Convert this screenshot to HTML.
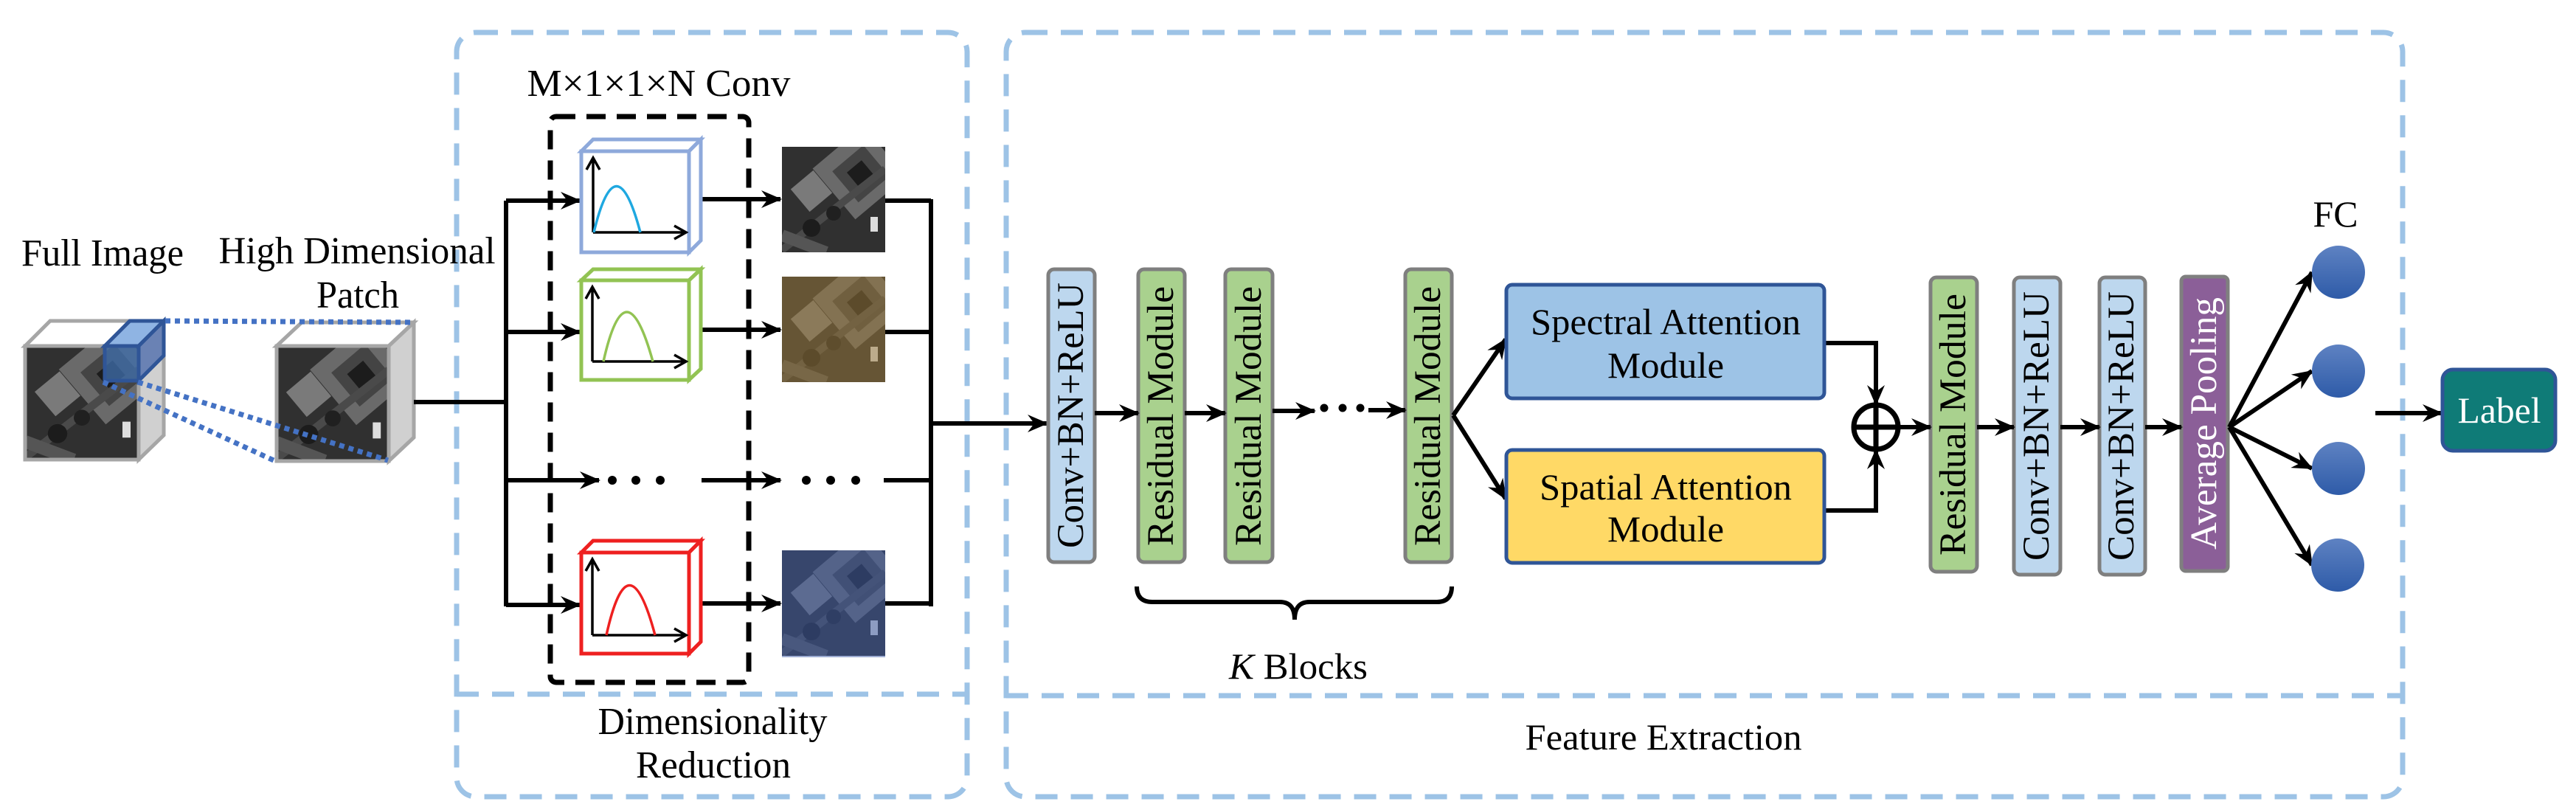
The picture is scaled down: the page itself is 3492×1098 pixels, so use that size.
<!DOCTYPE html>
<html><head><meta charset="utf-8"><style>
html,body{margin:0;padding:0;background:#fff}
svg{display:block}
svg text{font-family:"Liberation Serif","Times New Roman",Times,serif !important;fill:#000}
</style></head><body>
<svg width="3492" height="1098" viewBox="0 0 3492 1098" xmlns="http://www.w3.org/2000/svg" font-family="Liberation Serif, Times New Roman, serif">
<defs>
<marker id="ah" markerWidth="30" markerHeight="24" refX="26" refY="12" orient="auto" markerUnits="userSpaceOnUse">
<path d="M0,0 L28,12 L0,24 L9,12 z" fill="#000"/>
</marker>
<linearGradient id="cg" x1="0" y1="0" x2="0" y2="1"><stop offset="0" stop-color="#5E82C2"/><stop offset="1" stop-color="#2E5BA8"/></linearGradient>
<clipPath id="sc"><rect x="0" y="0" width="140" height="143"/></clipPath>
<g id="sat">
<rect x="0" y="0" width="140" height="143" fill="#303030"/>
<g clip-path="url(#sc)">
<rect x="60" y="-10" width="90" height="90" fill="#6a6a6a" transform="rotate(-40 105 35)"/>
<rect x="78" y="10" width="55" height="55" fill="#444" transform="rotate(-40 105 35)"/>
<rect x="92" y="24" width="26" height="26" fill="#1c1c1c" transform="rotate(-40 105 35)"/>
<rect x="20" y="40" width="40" height="40" fill="#7a7a7a" transform="rotate(-40 40 60)"/>
<path d="M0,140 L140,30" stroke="#4a4a4a" stroke-width="10"/>
<path d="M0,120 L60,143" stroke="#555" stroke-width="16"/>
<circle cx="40" cy="110" r="12" fill="#1c1c1c"/><circle cx="70" cy="90" r="10" fill="#202020"/>
<rect x="120" y="95" width="10" height="20" fill="#ddd"/>
</g>
</g>
</defs>

<g fill="none" stroke="#9DC3E6" stroke-width="7" stroke-dasharray="30 18">
<rect x="619" y="44" width="692" height="1036" rx="26"/>
<line x1="619" y1="941" x2="1311" y2="941"/>
<rect x="1364" y="44" width="1893" height="1036" rx="26"/>
<line x1="1364" y1="943" x2="3257" y2="943"/>
</g>

<path d="M34,469 L68,435 L222,435 L188,469 Z" fill="#fff" stroke="#a6a6a6" stroke-width="5"/>
<path d="M188,469 L222,435 L222,590 L188,623 Z" fill="#d0d0d0" stroke="#a6a6a6" stroke-width="5"/>
<g transform="translate(34,469) scale(1.1,1.08)"><use href="#sat"/></g>
<rect x="34" y="469" width="154" height="154" fill="none" stroke="#a6a6a6" stroke-width="5"/>
<path d="M142,469 L176,435 L222,435 L188,469 Z" fill="#8FB4E3" stroke="#2F5597" stroke-width="5"/>
<path d="M188,469 L222,435 L222,482 L188,516 Z" fill="#6A82B4" stroke="#2F5597" stroke-width="5"/>
<rect x="142" y="469" width="46" height="47" fill="#3F6FAE" fill-opacity="0.75" stroke="#2F5597" stroke-width="5"/>
<path d="M375,469 L409,437 L561,437 L527,469 Z" fill="#fff" stroke="#a6a6a6" stroke-width="5"/>
<path d="M527,469 L561,437 L561,593 L527,625 Z" fill="#d0d0d0" stroke="#a6a6a6" stroke-width="5"/>
<g transform="translate(375,469) scale(1.086,1.09)"><use href="#sat"/></g>
<rect x="375" y="469" width="152" height="156" fill="none" stroke="#a6a6a6" stroke-width="5"/>
<g stroke="#4472C4" stroke-width="7" stroke-dasharray="7 6" fill="none">
<line x1="224" y1="435" x2="561" y2="437"/>
<line x1="140" y1="518" x2="371" y2="624"/>
<line x1="187" y1="518" x2="526" y2="624"/>
</g>

<text x="139" y="360" font-size="52" text-anchor="middle" textLength="220" lengthAdjust="spacingAndGlyphs">Full Image</text>
<text x="484" y="357" font-size="52" text-anchor="middle" textLength="375" lengthAdjust="spacingAndGlyphs">High Dimensional</text>
<text x="485" y="417" font-size="52" text-anchor="middle" textLength="112" lengthAdjust="spacingAndGlyphs">Patch</text>
<text x="893" y="130" font-size="52" text-anchor="middle" textLength="357" lengthAdjust="spacingAndGlyphs">M×1×1×N Conv</text>
<text x="966" y="995" font-size="52" text-anchor="middle" textLength="311" lengthAdjust="spacingAndGlyphs">Dimensionality</text>
<text x="967" y="1054" font-size="52" text-anchor="middle" textLength="210" lengthAdjust="spacingAndGlyphs">Reduction</text>

<g stroke="#000" stroke-width="6" fill="none">
<line x1="561" y1="545" x2="686" y2="545"/>
<line x1="686" y1="272" x2="686" y2="822"/>
<line x1="686" y1="272" x2="786" y2="272" marker-end="url(#ah)"/>
<line x1="686" y1="450" x2="786" y2="450" marker-end="url(#ah)"/>
<line x1="686" y1="651" x2="812" y2="651" marker-end="url(#ah)"/>
<line x1="686" y1="820" x2="786" y2="820" marker-end="url(#ah)"/>
<line x1="950" y1="270" x2="1058" y2="270" marker-end="url(#ah)"/>
<line x1="950" y1="447" x2="1058" y2="447" marker-end="url(#ah)"/>
<line x1="951" y1="651" x2="1058" y2="651" marker-end="url(#ah)"/>
<line x1="950" y1="818" x2="1058" y2="818" marker-end="url(#ah)"/>
<line x1="1198" y1="272" x2="1262" y2="272"/>
<line x1="1198" y1="450" x2="1262" y2="450"/>
<line x1="1198" y1="651" x2="1262" y2="651"/>
<line x1="1198" y1="818" x2="1262" y2="818"/>
<line x1="1262" y1="270" x2="1262" y2="822"/>
<line x1="1262" y1="574" x2="1419" y2="574" marker-end="url(#ah)"/>
</g>
<g fill="#000">
<circle cx="830" cy="651" r="6"/><circle cx="862" cy="651" r="6"/><circle cx="895" cy="651" r="6"/>
<circle cx="1093" cy="651" r="6"/><circle cx="1126" cy="651" r="6"/><circle cx="1160" cy="651" r="6"/>
</g>

<rect x="746" y="158" width="269" height="767" rx="8" fill="none" stroke="#000" stroke-width="7" stroke-dasharray="26 15"/>

<g stroke-width="5" fill="#fff">
<g stroke="#8EA9DB">
<path d="M788,205 L804,189 L950,189 L934,205 Z"/><path d="M934,205 L950,189 L950,326 L934,342 Z"/>
<rect x="788" y="205" width="146" height="137"/>
</g>
<g stroke="#92C353">
<path d="M788,380 L804,365 L950,365 L934,380 Z"/><path d="M934,380 L950,365 L950,500 L934,515 Z"/>
<rect x="788" y="380" width="146" height="135"/>
</g>
<g stroke="#EE2020">
<path d="M788,749 L804,733 L950,733 L934,749 Z"/><path d="M934,749 L950,733 L950,870 L934,886 Z"/>
<rect x="788" y="749" width="146" height="137"/>
</g>
</g>
<g stroke="#000" stroke-width="3.5" fill="none">
<path d="M804,315 L804,216 M795,230 L804,214 L813,230"/><path d="M804,315 L928,315 M914,306 L930,315 L914,324"/>
<path d="M803,490 L803,391 M794,405 L803,389 L812,405"/><path d="M803,490 L928,490 M914,481 L930,490 L914,499"/>
<path d="M803,861 L803,760 M794,774 L803,758 L812,774"/><path d="M803,861 L928,861 M914,852 L930,861 L914,870"/>
</g>
<path d="M805,315 Q835,190 868,315" stroke="#1FA8E0" stroke-width="3.5" fill="none"/>
<path d="M818,490 Q848,356 885,490" stroke="#92C353" stroke-width="3.5" fill="none"/>
<path d="M822,861 Q852,726 888,861" stroke="#EE2020" stroke-width="3.5" fill="none"/>

<g transform="translate(1060,199)"><use href="#sat"/></g>
<g transform="translate(1060,375)"><use href="#sat"/><rect width="140" height="143" fill="#9B7A3A" fill-opacity="0.5"/></g>
<g transform="translate(1060,746)"><use href="#sat"/><rect width="140" height="145" fill="#3E5BA8" fill-opacity="0.5"/></g>

<g stroke="#7F7F7F" stroke-width="5">
<rect x="1421" y="365" width="63" height="397" rx="8" fill="#BDD7EE"/>
<rect x="1543" y="365" width="63" height="397" rx="8" fill="#A9D18E"/>
<rect x="1661" y="365" width="64" height="397" rx="8" fill="#A9D18E"/>
<rect x="1905" y="365" width="63" height="397" rx="8" fill="#A9D18E"/>
<rect x="2617" y="376" width="63" height="399" rx="8" fill="#A9D18E"/>
<rect x="2730" y="376" width="63" height="403" rx="8" fill="#BDD7EE"/>
<rect x="2846" y="376" width="62" height="403" rx="8" fill="#BDD7EE"/>
<rect x="2957" y="375" width="63" height="399" rx="6" fill="#8B5F98"/>
</g>
<g font-size="51">
<text transform="translate(1468,743) rotate(-90)" textLength="360" lengthAdjust="spacingAndGlyphs">Conv+BN+ReLU</text>
<text transform="translate(1590,740) rotate(-90)" textLength="352" lengthAdjust="spacingAndGlyphs">Residual Module</text>
<text transform="translate(1709,740) rotate(-90)" textLength="352" lengthAdjust="spacingAndGlyphs">Residual Module</text>
<text transform="translate(1952,740) rotate(-90)" textLength="352" lengthAdjust="spacingAndGlyphs">Residual Module</text>
<text transform="translate(2664,753) rotate(-90)" textLength="355" lengthAdjust="spacingAndGlyphs">Residual Module</text>
<text transform="translate(2777,760) rotate(-90)" textLength="365" lengthAdjust="spacingAndGlyphs">Conv+BN+ReLU</text>
<text transform="translate(2892,760) rotate(-90)" textLength="365" lengthAdjust="spacingAndGlyphs">Conv+BN+ReLU</text>
<text transform="translate(3004,745) rotate(-90)" textLength="342" lengthAdjust="spacingAndGlyphs" style="fill:#fff">Average Pooling</text>
</g>

<g stroke="#000" stroke-width="6" fill="none">
<line x1="1484" y1="560" x2="1543" y2="560" marker-end="url(#ah)"/>
<line x1="1606" y1="560" x2="1661" y2="560" marker-end="url(#ah)"/>
<line x1="1725" y1="557" x2="1782" y2="557" marker-end="url(#ah)"/>
<line x1="1855" y1="556" x2="1905" y2="556" marker-end="url(#ah)"/>
<line x1="1970" y1="563" x2="2041" y2="460" marker-end="url(#ah)"/>
<line x1="1970" y1="563" x2="2041" y2="676" marker-end="url(#ah)"/>
<path d="M2473,465 L2543,465 L2543,548" marker-end="url(#ah)"/>
<path d="M2473,692 L2543,692 L2543,610" marker-end="url(#ah)"/>
<line x1="2574" y1="579" x2="2617" y2="579" marker-end="url(#ah)"/>
<line x1="2680" y1="579" x2="2730" y2="579" marker-end="url(#ah)"/>
<line x1="2793" y1="579" x2="2846" y2="579" marker-end="url(#ah)"/>
<line x1="2908" y1="579" x2="2957" y2="579" marker-end="url(#ah)"/>
<line x1="3022" y1="579" x2="3134" y2="369" marker-end="url(#ah)"/>
<line x1="3022" y1="579" x2="3134" y2="503" marker-end="url(#ah)"/>
<line x1="3022" y1="579" x2="3134" y2="635" marker-end="url(#ah)"/>
<line x1="3022" y1="579" x2="3134" y2="766" marker-end="url(#ah)"/>
<line x1="3220" y1="560" x2="3310" y2="560" marker-end="url(#ah)"/>
<path d="M1541,795 Q1541,816 1562,816 L1735,816 Q1755,816 1755,840 Q1755,816 1775,816 L1948,816 Q1968,816 1968,795" stroke-width="6"/>
</g>
<g fill="#000"><circle cx="1795" cy="553" r="5.5"/><circle cx="1820" cy="553" r="5.5"/><circle cx="1844" cy="553" r="5.5"/></g>
<circle cx="2543" cy="579" r="30" fill="#fff" stroke="#000" stroke-width="7"/>
<line x1="2513" y1="579" x2="2573" y2="579" stroke="#000" stroke-width="7"/>
<line x1="2543" y1="549" x2="2543" y2="609" stroke="#000" stroke-width="7"/>

<rect x="2042" y="386" width="431" height="154" rx="8" fill="#9DC3E6" stroke="#2F5597" stroke-width="5"/>
<rect x="2042" y="610" width="431" height="153" rx="8" fill="#FFD966" stroke="#2F5597" stroke-width="5"/>
<g font-size="50" text-anchor="middle">
<text x="2258" y="453" textLength="366" lengthAdjust="spacingAndGlyphs">Spectral Attention</text>
<text x="2258" y="512" textLength="158" lengthAdjust="spacingAndGlyphs">Module</text>
<text x="2258" y="677" textLength="342" lengthAdjust="spacingAndGlyphs">Spatial Attention</text>
<text x="2258" y="734" textLength="158" lengthAdjust="spacingAndGlyphs">Module</text>
<text x="1760" y="920" textLength="188" lengthAdjust="spacingAndGlyphs"><tspan font-style="italic">K</tspan> Blocks</text>
<text x="2255" y="1016" textLength="375" lengthAdjust="spacingAndGlyphs">Feature Extraction</text>
<text x="3166" y="307" textLength="61" lengthAdjust="spacingAndGlyphs">FC</text>
</g>

<g fill="url(#cg)">
<circle cx="3170" cy="369" r="36"/><circle cx="3170" cy="503" r="36"/>
<circle cx="3170" cy="635" r="36"/><circle cx="3169" cy="766" r="36"/>
</g>
<rect x="3311" y="501" width="153" height="110" rx="14" fill="#0F7B77" stroke="#2F5597" stroke-width="5"/>
<text x="3388" y="573" font-size="50" text-anchor="middle" textLength="113" lengthAdjust="spacingAndGlyphs" style="fill:#fff">Label</text>
</svg>
</body></html>
